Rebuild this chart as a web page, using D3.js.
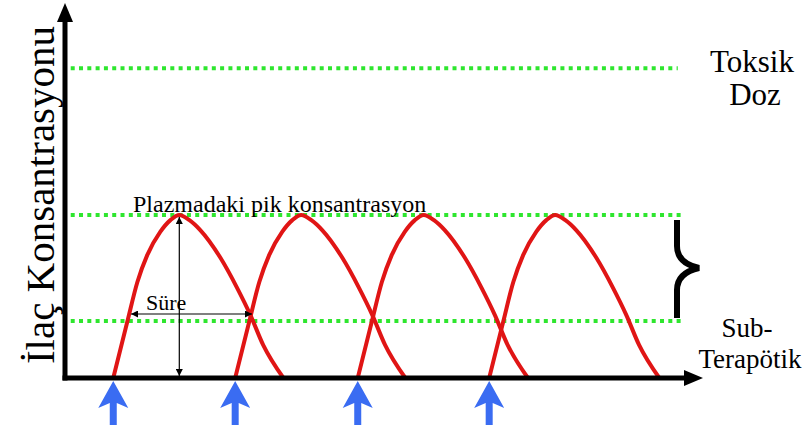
<!DOCTYPE html>
<html>
<head>
<meta charset="utf-8">
<script src="https://cdn.jsdelivr.net/npm/d3@7"></script>
<style>
  body { margin: 0; background: #fff; }
</style>
</head>
<body>
<div id="svg"></div>
<script>
// time of each dose (x units) and one dose concentration profile
const doseTimes = [7.6, 26.8, 46.1, 66.8]
const profileT = [0, 2.2, 3.8, 5.35, 7.4, 9.0, 10.4, 12.0, 13.7, 16.9, 19.5, 21.6, 23.6, 26.8]
const profileC = [0, 15.2, 26.1, 33.4, 39.7, 42.9, 44.3, 42.9, 40.2, 32.6, 24.5, 17.1, 9.0, 0]

// reference levels
const levelValues = [84.2, 44.3, 15.5]
const levelEnd = [96.5, 97.5, 97.5]

const yLabel = "İlaç Konsantrasyonu"
const peakLabel = "Plazmadaki pik konsantrasyon"
const durationLabel = "Süre"
const toxicLabel = ["Toksik", "Doz"]
const subLabel = ["Sub-", "Terapötik"]

const width = 807, height = 425
const serif = '"Liberation Serif", "Times New Roman", "DejaVu Serif", serif'

const x = d3.scaleLinear().domain([0, 100]).range([65, 700])
const y = d3.scaleLinear().domain([0, 100]).range([378, 10])

const svg = d3.select('#svg')
    .append('svg')
    .attr('width', width)
    .attr('height', height)

// dotted level lines
svg.selectAll('.level')
    .data(levelValues)
    .enter()
    .append('line')
    .attr('x1', x(0.9))
    .attr('x2', (d, i) => x(levelEnd[i]))
    .attr('y1', d => y(d))
    .attr('y2', d => y(d))
    .attr('stroke', '#2ee62e')
    .attr('stroke-width', 4)
    .attr('stroke-dasharray', '4,4.3')

// concentration curves, one per dose
const line = d3.line()
    .x(d => x(d[0]))
    .y(d => y(d[1]))
    .curve(d3.curveMonotoneX)

svg.selectAll('.curve')
    .data(doseTimes)
    .enter()
    .append('path')
    .attr('d', t0 => line(profileT.map((t, i) => [t0 + t, profileC[i]])))
    .attr('fill', 'none')
    .attr('stroke', '#e01515')
    .attr('stroke-width', 4)

// axes
const y0 = y(0)
svg.append('line')
    .attr('x1', x(0)).attr('x2', x(0))
    .attr('y1', y0 + 2.5).attr('y2', 20)
    .attr('stroke', '#000').attr('stroke-width', 5)
svg.append('path')
    .attr('d', `M${x(0)},3 L${x(0) + 8},22 L${x(0) - 8},22 Z`)
    .attr('fill', '#000')
svg.append('line')
    .attr('x1', x(0) - 2.5).attr('x2', 686)
    .attr('y1', y0).attr('y2', y0)
    .attr('stroke', '#000').attr('stroke-width', 5)
svg.append('path')
    .attr('d', `M703,${y0} L684,${y0 - 8} L684,${y0 + 8} Z`)
    .attr('fill', '#000')

// dose arrows
svg.selectAll('.dose')
    .data(doseTimes)
    .enter()
    .append('path')
    .attr('transform', d => "translate(" + x(d) + "," + (y0 + 3) + ")")
    .attr('d', 'M0,0 L15,27 L3.5,22 L3.5,45 L-3.5,45 L-3.5,22 L-15,27 Z')
    .attr('fill', '#3a6cf2')

// thin double arrows (peak height and duration)
svg.append('defs').append('marker')
    .attr('id', 'ah')
    .attr('viewBox', '0 0 10 10')
    .attr('refX', 10).attr('refY', 5)
    .attr('markerWidth', 9).attr('markerHeight', 7)
    .attr('markerUnits', 'userSpaceOnUse')
    .attr('orient', 'auto-start-reverse')
    .append('path')
    .attr('d', 'M0,0 L10,5 L0,10 Z')
    .attr('fill', '#000')

const peakX = x(doseTimes[0] + profileT[6])
svg.append('line')
    .attr('x1', peakX).attr('x2', peakX)
    .attr('y1', y(levelValues[1]) + 2).attr('y2', y0 - 2)
    .attr('stroke', '#000').attr('stroke-width', 1.2)
    .attr('marker-start', 'url(#ah)').attr('marker-end', 'url(#ah)')

svg.append('line')
    .attr('x1', 131).attr('x2', 252)
    .attr('y1', 314).attr('y2', 314)
    .attr('stroke', '#000').attr('stroke-width', 1.2)
    .attr('marker-start', 'url(#ah)').attr('marker-end', 'url(#ah)')

// brace
svg.append('path')
    .attr('d', 'M677,220 L677,246 Q677,263 699,268 Q677,273 677,290 L677,318')
    .attr('fill', 'none')
    .attr('stroke', '#000')
    .attr('stroke-width', 6)

// texts
const addText = (sel) => sel.attr('font-family', serif).attr('fill', '#000')

addText(svg.append('text'))
    .attr('transform', 'translate(54,195) rotate(-90)')
    .attr('text-anchor', 'middle')
    .attr('font-size', '41px')
    .text(yLabel)

addText(svg.append('text'))
    .attr('x', 133).attr('y', 212)
    .attr('font-size', '24px')
    .text(peakLabel)

addText(svg.append('text'))
    .attr('x', 146).attr('y', 310)
    .attr('font-size', '22px')
    .text(durationLabel)

addText(svg.selectAll('.tox')
    .data(toxicLabel)
    .enter()
    .append('text'))
    .attr('x', (d, i) => i ? 755 : 752)
    .attr('y', (d, i) => 72 + i * 33)
    .attr('text-anchor', 'middle')
    .attr('font-size', '31px')
    .text(d => d)

addText(svg.selectAll('.sub')
    .data(subLabel)
    .enter()
    .append('text'))
    .attr('x', (d, i) => i ? 750 : 747)
    .attr('y', (d, i) => 337 + i * 31)
    .attr('text-anchor', 'middle')
    .attr('font-size', '27px')
    .text(d => d)
</script>
</body>
</html>
